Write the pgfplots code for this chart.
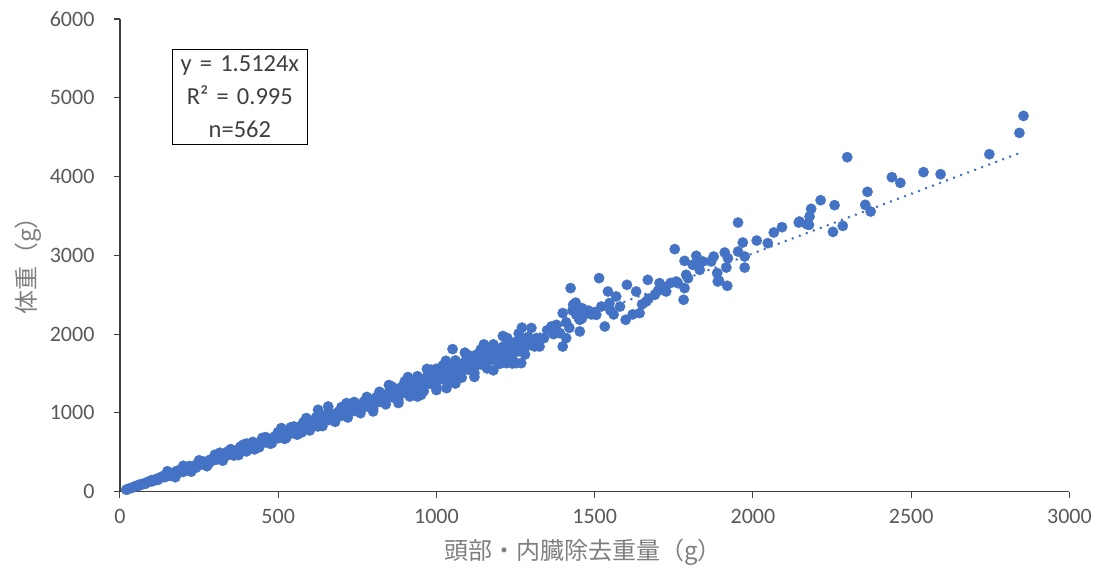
\documentclass[border=0pt]{standalone}
\usepackage{pgfplots}
\pgfplotsset{compat=1.18}
\usepackage{fontspec}
\setmainfont{Carlito}
\newfontfamily\jp{Noto Sans CJK JP}
\definecolor{mk}{HTML}{4472C4}
\definecolor{tk}{HTML}{595959}
\definecolor{ttl}{HTML}{7F7F7F}
\definecolor{ax}{HTML}{404040}
\begin{document}
\begin{tikzpicture}
\fontsize{22}{26}\selectfont
\path (-120pt,-84pt) rectangle (979pt,492pt);
\begin{axis}[
  scale only axis,
  width=950pt, height=473pt,
  xmin=0, xmax=3000, ymin=0, ymax=6000,
  xtick={0,500,...,3000}, ytick={0,1000,...,6000},
  axis lines=left, axis line style={-, ax, line width=1.3pt},
  tick align=outside, major tick length=6pt,
  tick style={ax, line width=1.1pt},
  minor tick num=0,
  /pgf/number format/assume math mode=true,
  /pgf/number format/1000 sep={},
  ticklabel style={font=\fontsize{22}{26}\selectfont, text=tk},
  xticklabel style={yshift=-4pt},
  yticklabel style={xshift=-12pt},
  xlabel={\jp 頭部・内臓除去重量（g）},
  ylabel={\jp 体重（g）},
  xlabel style={at={(axis description cs:0.488,0)}, anchor=center, yshift=-61pt, text=ttl, font=\fontsize{24}{28}\selectfont},
  ylabel style={at={(axis description cs:0,0.49)}, anchor=center, yshift=92pt, text=ttl, font=\fontsize{24}{28}\selectfont},
  clip=false,
]
\addplot[mk, line width=2.8pt, line cap=round, dash pattern=on 0.1pt off 7.4pt] coordinates {(20,30.2) (2850,4310)};
\addplot[only marks, mark=*, mark size=5.2pt, mark options={fill=mk, draw=mk, line width=0.3pt}] table {
x y
20 26
30 43
40 51
50 70
60 79
70 99
80 105
90 125
100 131
110 155
120 160
130 182
140 185
150 211
160 214
170 240
180 238
190 266
200 268
210 296
220 293
230 322
240 338
250 334
260 366
270 362
280 395
290 391
300 420
25 31
45 64
65 84
85 121
105 137
125 178
145 190
165 236
185 244
205 292
225 298
245 349
265 352
285 405
305 408
310 440
320 430
330 470
340 462
350 498
360 488
370 528
380 515
390 556
400 545
410 585
420 572
430 615
440 600
450 645
460 628
470 675
480 655
490 705
500 680
510 740
520 712
530 765
540 738
550 795
560 768
570 830
580 795
590 860
600 822
610 890
620 850
630 920
640 880
650 950
660 910
670 985
680 940
690 1015
700 965
710 1045
720 995
730 1075
740 1025
750 1105
760 1055
770 1140
780 1080
790 1170
800 1100
315 432
335 466
355 490
375 520
395 550
415 578
435 605
455 636
475 664
495 692
515 720
535 752
555 780
575 808
595 840
615 868
635 897
655 925
675 958
695 986
715 1015
735 1045
755 1075
775 1105
795 1135
316 495
389 596
510 808
589 935
626 1040
658 1082
716 1125
737 1125
800 1019
810 1200
820 1140
830 1230
840 1170
850 1265
860 1200
870 1300
880 1225
890 1330
900 1255
910 1360
920 1285
930 1395
940 1310
950 1425
960 1340
970 1460
980 1370
990 1495
1000 1400
1010 1525
1020 1430
1030 1555
1040 1460
1050 1590
1060 1490
1070 1620
1080 1520
1090 1650
1100 1550
1110 1685
1120 1580
1130 1715
1140 1615
1150 1745
1160 1645
1170 1780
1180 1675
1190 1810
1200 1705
1210 1840
1220 1735
1230 1870
1240 1765
1250 1900
1260 1800
1270 1935
1280 1830
1290 1965
1300 1860
815 1165
835 1195
855 1225
875 1258
895 1290
915 1320
935 1350
955 1382
975 1412
995 1445
1015 1475
1035 1505
1055 1536
1075 1568
1095 1598
1115 1630
1135 1662
1155 1693
1175 1725
1195 1757
1215 1788
1235 1820
1255 1852
1275 1884
1295 1915
60 88
80 100
100 147
120 150
140 206
160 201
180 266
200 252
220 326
240 304
260 387
280 355
300 447
320 407
340 509
360 459
380 569
400 512
420 632
440 564
460 693
480 617
500 756
520 671
540 819
560 724
580 882
600 778
620 945
640 833
660 1010
680 887
700 1074
720 942
740 1138
760 997
780 1203
800 1052
820 1268
840 1109
860 1334
880 1164
900 1400
920 1221
940 1466
960 1277
980 1533
1000 1334
1020 1600
1040 1391
1060 1666
1080 1449
1100 1734
1120 1506
1140 1803
1160 1565
1180 1870
1200 1623
1220 1940
1240 1682
1260 2009
1280 1741
1300 2078
150 260
175 184
200 329
225 254
250 399
275 324
300 469
325 394
350 540
375 465
400 611
425 537
450 683
475 609
500 755
525 681
550 828
575 754
600 901
625 828
650 975
850 1354
880 1126
910 1455
940 1208
970 1558
1000 1290
1030 1662
1060 1373
1090 1765
1120 1457
1150 1870
1180 1541
1210 1976
1240 1627
1270 2082
916 1209
952 1230
984 1548
1000 1560
1032 1315
1051 1810
1095 1675
1126 1738
1156 1843
1189 1780
1221 1632
1224 1950
1252 1632
1258 1780
1274 1907
1311 1843
1316 1950
1279 1907
1268 1632
1316 1886
1326 1843
1340 1950
1350 2050
1363 2097
1370 2000
1379 2118
1390 2013
1399 2267
1399 1843
1410 2150
1410 1950
1420 2080
1424 2584
1430 2300
1432 2372
1440 2400
1442 2245
1453 2182
1453 2034
1460 2200
1460 2330
1474 2267
1480 2300
1490 2250
1500 2280
1505 2245
1514 2711
1521 2351
1532 2097
1542 2541
1547 2394
1550 2300
1560 2250
1568 2478
1580 2350
1598 2182
1602 2626
1620 2250
1631 2541
1642 2267
1650 2380
1663 2414
1668 2689
1670 2450
1690 2499
1700 2550
1705 2647
1720 2600
1726 2541
1740 2650
1753 3079
1758 2668
1763 2647
1781 2436
1784 2584
1784 2930
1789 2753
1795 2710
1810 2880
1821 2901
1821 2994
1832 2816
1842 2922
1868 2922
1876 2985
1887 2775
1889 2668
1893 2677
1911 3036
1916 2845
1919 2613
1921 2964
1953 3048
1953 3416
1968 3163
1974 2985
1974 2845
2012 3188
2047 3155
2066 3290
2092 3358
2145 3416
2147 3429
2170 3396
2177 3387
2179 3493
2184 3590
2214 3700
2253 3298
2258 3637
2284 3374
2298 4246
2355 3641
2362 3806
2372 3556
2439 3992
2466 3920
2539 4056
2593 4030
2747 4284
2842 4554
2855 4770
};
\node[draw=black, line width=0.8pt, align=center, text=ax, inner xsep=4pt, inner ysep=6pt, font=\fontsize{24.5}{33}\selectfont, text width=127pt] at (axis cs:379,5011) {y = 1.5124x\\R² = 0.995\\n=562};
\end{axis}
\end{tikzpicture}
\end{document}
